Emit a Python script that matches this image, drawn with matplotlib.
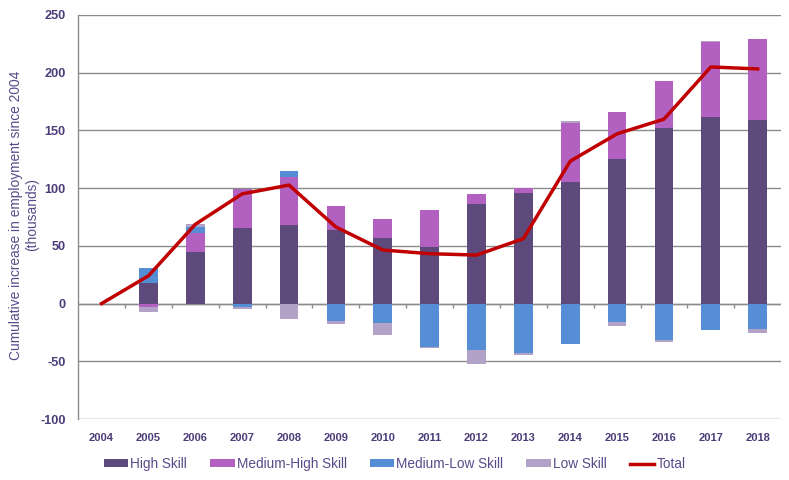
import matplotlib
matplotlib.use("Agg")
import matplotlib.pyplot as plt
import numpy as np

years = ["2004", "2005", "2006", "2007", "2008", "2009", "2010", "2011",
         "2012", "2013", "2014", "2015", "2016", "2017", "2018"]
high_skill = [0, 17.6, 44.4, 65.1, 67.7, 63.7, 56.5, 49.0, 86.2, 95.7, 104.9, 124.8, 152.4, 161.4, 158.8]
medium_high = [0, -3.0, 17.0, 34.3, 41.8, 20.4, 16.7, 32.0, 8.9, 4.6, 51.3, 41.5, 40.7, 65.1, 70.0]
medium_low = [0, 13.2, 4.9, -2.9, 5.2, -15.3, -17.0, -38.0, -40.3, -42.9, -34.6, -16.1, -31.4, -22.8, -22.2]
low_skill = [0, -4.3, 2.3, -2.0, -13.0, -2.6, -10.4, -0.5, -12.1, -1.5, 2.0, -3.2, -1.7, 1.2, -2.9]
total = [0, 24.0, 68.6, 95.0, 102.6, 66.3, 46.4, 43.2, 42.0, 56.2, 123.3, 147.0, 159.7, 204.9, 203.2]

series_names = ["High Skill", "Medium-High Skill", "Medium-Low Skill", "Low Skill"]
series_colors = ["#5E4A7A", "#B361C0", "#558ED5", "#B3A2C7"]
text_color = "#4B3D78"

plt.rcParams['font.family'] = ['Liberation Sans', 'DejaVu Sans']
plt.rcParams['axes.unicode_minus'] = False

fig = plt.figure(figsize=(7.89, 4.8), dpi=100)
ax = fig.add_axes([0.099, 0.127, 0.891, 0.842])

x = np.arange(len(years))
pos_bottom = np.zeros(len(years))
neg_bottom = np.zeros(len(years))
for vals, name, col in zip([high_skill, medium_high, medium_low, low_skill], series_names, series_colors):
    v = np.array(vals, dtype=float)
    b = np.where(v >= 0, pos_bottom, neg_bottom)
    ax.bar(x, v, 0.4, bottom=b, color=col, label=name, zorder=3)
    pos_bottom += np.where(v >= 0, v, 0)
    neg_bottom += np.where(v < 0, v, 0)

ax.plot(x, total, color="#C00000", lw=2.5, label="Total", zorder=4)

ax.set_xlim(-0.5, len(years) - 0.5)
ax.set_ylim(-100, 250)
ax.set_yticks(np.arange(-100, 251, 50))
ax.yaxis.grid(True, color="#8C8C8C", lw=1.0, zorder=0)
ax.set_axisbelow(True)
for s in ["top", "right", "bottom"]:
    ax.spines[s].set_visible(False)
ax.spines["left"].set_color("#8C8C8C")
ax.spines["left"].set_linewidth(1.0)
ax.axhline(0, color="#8C8C8C", lw=1.0, zorder=2)
ax.vlines(np.arange(0.5, len(years) - 1), -3.5, 0, color="#8C8C8C", lw=1.0, zorder=2)

ax.set_xticks(x)
ax.set_xticklabels(years)
ax.tick_params(axis="x", length=0, pad=10, labelsize=8.0, labelcolor=text_color)
ax.tick_params(axis="y", length=0, pad=9, labelsize=9.2, labelcolor=text_color)
for lab in ax.get_xticklabels() + ax.get_yticklabels():
    lab.set_fontweight("bold")

ax.set_ylabel("Cumulative increase in employment since 2004\n(thousands)",
              fontsize=9.9, color="#5A4A8A", linespacing=1.15)
ax.yaxis.set_label_coords(-0.056, 0.505)

handles, labels = ax.get_legend_handles_labels()
order = [1, 2, 3, 4, 0]
leg = fig.legend([handles[i] for i in order], [labels[i] for i in order],
                 loc="center", bbox_to_anchor=(0.5, 0.033), ncol=5, frameon=False,
                 fontsize=9.8, handlelength=1.8, handleheight=0.55, handletextpad=0.15,
                 columnspacing=1.7, labelcolor="#5A4A8A")

fig.savefig("out.png", dpi=100)
